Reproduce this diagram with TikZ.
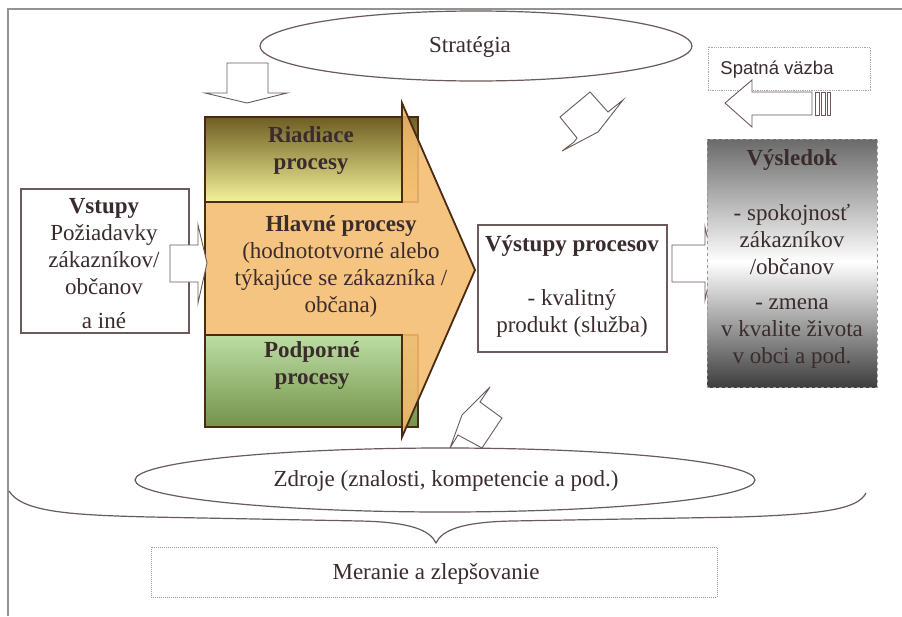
\documentclass[tikz,border=0pt]{standalone}
\usepackage{fontspec}
\setmainfont{Liberation Serif}
\newfontfamily\sansf{Liberation Sans}
\usetikzlibrary{shapes.geometric}
\definecolor{txt}{HTML}{3A2C2C}
\definecolor{ln}{HTML}{6A5A5A}
\definecolor{brn}{HTML}{4A2A12}
\definecolor{riaT}{HTML}{6E5E22}
\definecolor{riaM}{HTML}{E4DE78}
\definecolor{riaB}{HTML}{F4F29C}
\definecolor{podT}{HTML}{BCDEA4}
\definecolor{podM}{HTML}{A6C888}
\definecolor{podB}{HTML}{74924A}
\definecolor{orT}{HTML}{C58C46}
\definecolor{orM}{HTML}{F5BC70}
\definecolor{orB}{HTML}{CF9449}
\definecolor{gT}{HTML}{6A6A6A}
\definecolor{gB}{HTML}{3E3E3E}
\pgfdeclareverticalshading{orsh}{100bp}{color(0bp)=(orB); color(30bp)=(orM); color(68bp)=(orM); color(100bp)=(orT)}
\tikzset{
  body/.style={font=\fontsize{23}{27}\selectfont, text=txt, align=center, inner sep=0pt},
  cbody/.style={font=\fontsize{23}{27}\selectfont, text=txt, inner sep=0pt},
  plainbox/.style={draw=ln, line width=1.1pt},
  blockarrow/.style={draw=ln, fill=white, line width=0.9pt, line join=miter},
  procline/.style={draw=brn, line width=1.8pt, line join=miter},
}
\begin{document}
\begin{tikzpicture}[x=1pt,y=-1pt]
\useasboundingbox (0,0) rectangle (902,616);
\fill[white] (0,0) rectangle (902,616);

% outer frame
\draw[gray!85, line width=1.2pt] (8,616) -- (8,9) -- (902,9);

% Strategia
\node[ellipse, draw=ln, line width=1.2pt, fill=white, minimum width=432pt, minimum height=70pt, cbody] (strat) at (476,46) {};
\node[cbody] (strattext) at (470,47) {Stratégia};

% down arrow from strategy
\draw[blockarrow] (227,63) -- (268,63) -- (268,93) -- (287,93) -- (247,103) -- (205,93) -- (227,93) -- cycle;

% Riadiace and Podporne boxes
\shade[top color=riaT, middle color=riaM, bottom color=riaB] (205,117) rectangle (418,202);
\draw[procline] (205,117) rectangle (418,202);
\shade[top color=podT, middle color=podM, bottom color=podB] (205,335) rectangle (418,427);
\draw[procline] (205,335) rectangle (418,427);

% main process arrow
\shade[shading=orsh, opacity=0.88]
  (205,202) -- (402,202) -- (402,103) -- (475,270) -- (402,437) -- (402,335) -- (205,335) -- cycle;
\draw[procline]
  (205,202) -- (402,202) -- (402,103) -- (475,270) -- (402,437) -- (402,335) -- (205,335) -- cycle;

\node[body, font=\fontsize{23}{27}\selectfont\bfseries] (ria) at (311,150) {Riadiace\\procesy};
\node[body] (hlav) at (341,266) {\textbf{Hlavné procesy}\\(hodnototvorné alebo\\týkajúce se zákazníka /\\občana)};
\node[body, font=\fontsize{23}{27}\selectfont\bfseries] (pod) at (312,365) {Podporné\\procesy};

% Vstupy
\node[plainbox, minimum width=168pt, minimum height=144pt, inner sep=0pt] (vstbox) at (105,261) {};
\node[body] (vst) at (104,264) {\textbf{Vstupy}\\Požiadavky\\zákazníkov/\\občanov\\[7pt]a iné};
\draw[blockarrow] (170,245) -- (198,245) -- (198,225) -- (207,263) -- (198,303) -- (198,282) -- (170,282) -- cycle;

% Vystupy procesov
\node[plainbox, minimum width=189pt, minimum height=127pt, inner sep=0pt] (vysbox) at (572.5,288.5) {};
\node[body] (vys) at (572,286) {\textbf{Výstupy procesov}\\[27pt]- kvalitný\\produkt (služba)};
\draw[blockarrow] (672,245) -- (705,245) -- (705,227) -- (713,263) -- (705,300) -- (705,282) -- (672,282) -- cycle;

% Vysledok
\shade[top color=gT, bottom color=white] (707,139) rectangle (877,262);
\shade[top color=white, bottom color=gB] (707,261.5) rectangle (877,387);
\node[draw=gray!80, dashed, line width=1pt, minimum width=170pt, minimum height=248pt, inner sep=0pt] (vyslbox) at (792,263) {};
\node[body] (vysl) at (792,259) {\textbf{Výsledok}\\[28pt]- spokojnosť\\zákazníkov\\/občanov\\[8pt]- zmena\\v kvalite života\\v obci a pod.};

% Spatna vazba
\node[draw=gray!70, densely dotted, line width=0.8pt, fill=white, minimum width=162pt, minimum height=43pt, inner sep=0pt] (spbox) at (789,68.5) {};
\node[font=\sansf\fontsize{18.5}{22}\selectfont, text=txt, inner sep=0pt] (sp) at (777,70) {Spatná väzba};
\draw[blockarrow] (725,103) -- (752,80) -- (752,92) -- (812,92) -- (812,115) -- (752,115) -- (752,127) -- cycle;
\draw[blockarrow] (815,92) rectangle (819,115);
\draw[blockarrow] (821,92) rectangle (825,115);
\draw[blockarrow] (827,92) rectangle (830,115);

% diagonal arrows
\draw[blockarrow] (590,92) -- (560,117) -- (577,138) -- (574,142) -- (562,151) -- (598,132) -- (623,100) -- (608,112) -- cycle;
\draw[blockarrow] (490,387) -- (480,402) -- (502,418) -- (482,448) -- (458,435) -- (450,448) -- (462,415) -- cycle;

% Zdroje
\node[ellipse, draw=ln, line width=1.2pt, fill=white, minimum width=620pt, minimum height=64pt] (zdr) at (445,480) {};
\node[cbody] (zdrtext) at (446,481) {Zdroje (znalosti, kompetencie a pod.)};

% brace
\draw[ln, line width=1.2pt] (9,491) .. controls (22,512) and (70,515) .. (150,517)
  -- (360,521) .. controls (410,522) and (430,530) .. (436,543)
  .. controls (442,530) and (462,522) .. (512,521)
  -- (740,517) .. controls (830,514) and (858,508) .. (866,493);

% Meranie
\node[draw=gray!80, densely dotted, line width=1pt, minimum width=566pt, minimum height=50pt, inner sep=0pt] (mer) at (434,572) {};
\node[cbody] (mertext) at (436,574) {Meranie a zlepšovanie};
\end{tikzpicture}
\end{document}
